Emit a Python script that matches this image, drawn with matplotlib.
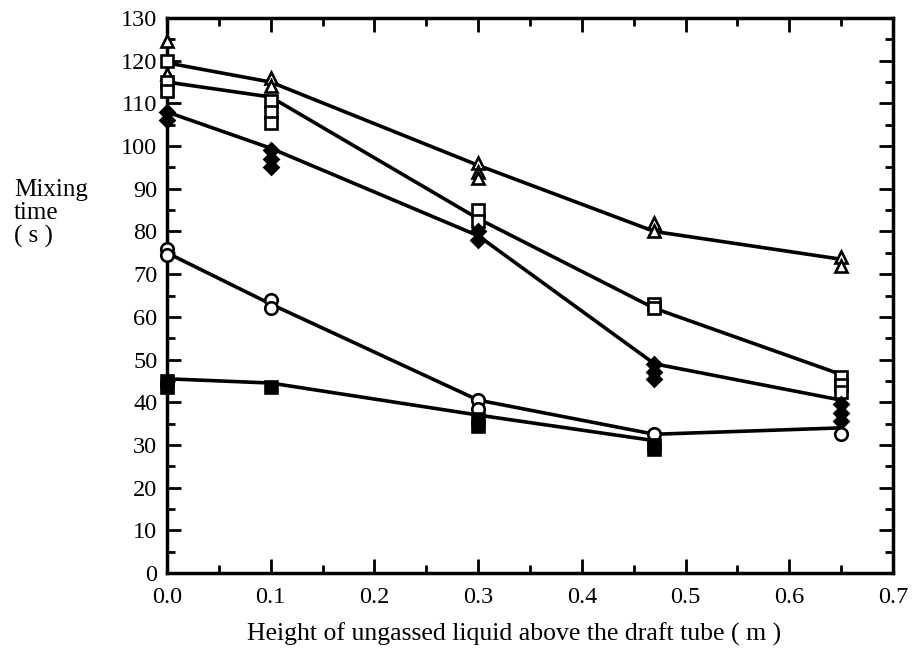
import matplotlib.pyplot as plt
from matplotlib.ticker import MultipleLocator

plt.rcParams['font.family'] = ['Liberation Serif', 'DejaVu Serif']

# fitted lines
x_line = [0.0, 0.1, 0.3, 0.47, 0.65]
tri_line = [119.5, 115, 95.5, 80, 73.5]
sq_line = [115, 111.5, 83, 62, 46.5]
dia_line = [108, 99.5, 79, 49, 40.5]
circ_line = [75, 63, 40.5, 32.5, 34]
fsq_x = [0.0, 0.1, 0.3, 0.47]
fsq_line = [45.5, 44.5, 37, 31]

# measured points
tri_x = [0.0, 0.0, 0.1, 0.1, 0.3, 0.3, 0.3, 0.47, 0.47, 0.65, 0.65]
tri_y = [124.5, 117, 116, 114, 96, 94, 92.5, 82, 80, 74, 72]
sq_x = [0.0, 0.0, 0.0, 0.1, 0.1, 0.1, 0.3, 0.3, 0.47, 0.47, 0.65, 0.65, 0.65]
sq_y = [120, 115, 113, 110.5, 108, 105.5, 85, 82.5, 63, 62, 46, 44, 42.5]
dia_x = [0.0, 0.0, 0.1, 0.1, 0.1, 0.3, 0.3, 0.47, 0.47, 0.47, 0.65, 0.65, 0.65]
dia_y = [108, 106, 99, 97, 95, 80, 78, 49, 47, 45.5, 39.5, 37.5, 35.5]
circ_x = [0.0, 0.0, 0.1, 0.1, 0.3, 0.3, 0.47, 0.65]
circ_y = [76, 74.5, 64, 62, 40.5, 38.5, 32.5, 32.5]
fsq_px = [0.0, 0.0, 0.1, 0.3, 0.3, 0.47, 0.47]
fsq_py = [45, 43.5, 43.5, 36, 34.5, 30, 29]

fig = plt.figure(figsize=(9.15, 6.48), dpi=100)
ax = fig.add_axes([0.1825, 0.1157, 0.7935, 0.8565])

lw = 2.6
for xs, ys in [(x_line, tri_line), (x_line, sq_line), (x_line, dia_line),
               (x_line, circ_line), (fsq_x, fsq_line)]:
    ax.plot(xs, ys, color='black', lw=lw, zorder=2)

mk = dict(linestyle='none', markeredgecolor='black', markeredgewidth=1.9,
          zorder=3, clip_on=False)
ax.plot(tri_x, tri_y, marker='^', markersize=9, markerfacecolor='white', **mk)
ax.plot(sq_x, sq_y, marker='s', markersize=8.5, markerfacecolor='white', **mk)
ax.plot(dia_x, dia_y, marker='D', markersize=7, markerfacecolor='black', **mk)
ax.plot(circ_x, circ_y, marker='o', markersize=9, markerfacecolor='white', **mk)
ax.plot(fsq_px, fsq_py, marker='s', markersize=8.5, markerfacecolor='black', **mk)

ax.set_xlim(0, 0.7)
ax.set_ylim(0, 130)
ax.xaxis.set_major_locator(MultipleLocator(0.1))
ax.xaxis.set_minor_locator(MultipleLocator(0.05))
ax.yaxis.set_major_locator(MultipleLocator(10))
ax.yaxis.set_minor_locator(MultipleLocator(5))
ax.xaxis.set_major_formatter(plt.FuncFormatter(lambda v, p: f'{v:.1f}'))

ax.tick_params(which='both', direction='in', top=True, right=True, width=2,
               labelsize=17.5)
ax.tick_params(which='major', length=10)
ax.tick_params(which='minor', length=6)
ax.tick_params(axis='y', pad=7)
ax.tick_params(axis='x', pad=10)
for s in ax.spines.values():
    s.set_linewidth(2.5)

ax.set_xlabel('Height of ungassed liquid above the draft tube ( m )', fontsize=18.5)
ax.xaxis.set_label_coords(0.478, -0.09)
fig.text(0.015, 0.67, 'Mixing\ntime\n( s )', fontsize=18, ha='left', va='center',
         linespacing=1.05)

fig.savefig('out.png', dpi=100)
